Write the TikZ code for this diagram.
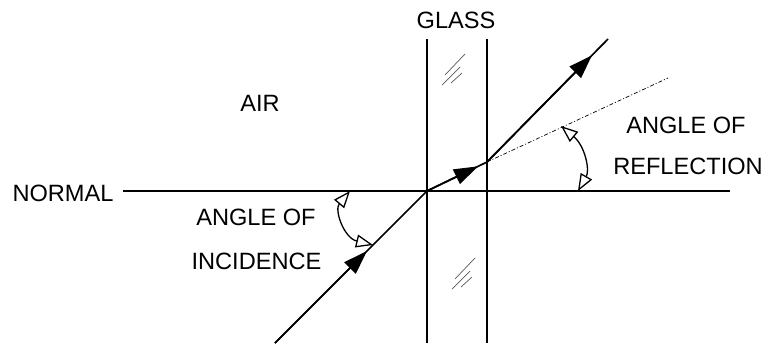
\documentclass[tikz,border=0pt]{standalone}
\usepackage{fontspec}
\setmainfont{Liberation Sans}
\usetikzlibrary{arrows.meta,calc}
\begin{document}
\begin{tikzpicture}[x=1pt,y=-1pt,
  ray/.style={line width=1.7pt},
  bound/.style={line width=1.6pt},
  hatch/.style={line width=0.7pt, black!65},
  lbl/.style={font=\fontsize{23.6}{28}\selectfont, inner sep=0pt},
  solidhead/.style={ray,-{Triangle[length=24pt,width=16pt]}},
  anglearc/.style={line width=1.3pt, {Triangle[open,length=17pt,width=13pt,fill=white]}-{Triangle[open,length=17pt,width=13pt,fill=white]}},
  dashdot/.style={line width=0.7pt, dash pattern=on 4pt off 2pt on 1pt off 2pt}]
\useasboundingbox (0,0) rectangle (766,343);
% key points
\coordinate (O) at (427,191);
\coordinate (R) at (487,162);
\coordinate (S) at (275,343);
\coordinate (E) at (608,39);
\coordinate (D) at (668,78);
\coordinate (NL) at (123,191);
\coordinate (NR) at (730,191);
\coordinate (GLt) at (427,39);
\coordinate (GLb) at (427,343);
\coordinate (GRt) at (487,39);
\coordinate (GRb) at (487,343);
% glass boundaries and normal
\draw[bound] (GLt) -- (GLb);
\draw[bound] (GRt) -- (GRb);
\draw[bound] (NL) -- (NR);
% rays
\draw[ray] (S) -- (O);
\draw[solidhead] (S) -- ($(S)!0.605!(O)$);
\draw[ray] (O) -- (R);
\draw[solidhead] (O) -- ($(O)!0.85!(R)$);
\draw[ray] (R) -- (E);
\draw[solidhead] (R) -- ($(R)!0.868!(E)$);
\draw[dashdot] (R) -- (D);
% angle arcs
\coordinate (IA1) at (350,191);
\coordinate (IA2) at (373,245);
\draw[anglearc] (IA1) .. controls (334,210) and (344,238) .. (IA2);
\coordinate (RA1) at (561,126);
\coordinate (RA2) at (578,191);
\draw[anglearc] (RA1) .. controls (585,146) and (590,170) .. (RA2);
% glass hatching
\foreach \dx/\dy in {0/0, 10/204}{
  \draw[hatch] (465+\dx,54+\dy) -- (445+\dx,75+\dy);
  \draw[hatch] (460+\dx,67+\dy) -- (442+\dx,85+\dy);
  \draw[hatch] (462+\dx,73+\dy) -- (451+\dx,83+\dy);
}
% labels
\node[lbl] (glass) at (456,20.5) {GLASS};
\node[lbl] (air) at (260,103.5) {AIR};
\node[lbl] (normal) at (63,193.5) {NORMAL};
\node[lbl] (ai1) at (256,217.5) {ANGLE OF};
\node[lbl] (ai2) at (256.5,261.5) {INCIDENCE};
\node[lbl] (ar1) at (686,125) {ANGLE OF};
\node[lbl] (ar2) at (688,166.5) {REFLECTION};
\end{tikzpicture}
\end{document}
